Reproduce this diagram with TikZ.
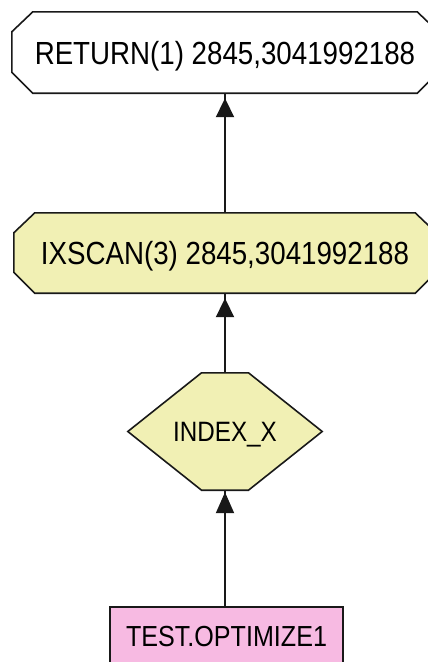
\documentclass[tikz,border=0pt]{standalone}
\usepackage{fontspec}
\setmainfont[FakeStretch=0.866]{Liberation Sans}
\usetikzlibrary{arrows.meta,backgrounds}
\definecolor{planyellow}{RGB}{241,240,180}
\definecolor{tablepink}{RGB}{247,186,226}
\definecolor{inkgray}{RGB}{25,25,25}
\begin{document}
\begin{tikzpicture}[x=1pt,y=-1pt,
  opnode/.style={rectangle, inner sep=0pt, text depth=0pt},
  bigtext/.style={font=\fontsize{32}{36}\selectfont, text height=23pt},
  outline/.style={draw=inkgray, line width=1.6pt, line join=miter},
  conn/.style={draw=inkgray, line width=2pt},
  tip/.style={conn, -{Triangle[length=#1pt,width=18pt]}},
]
\useasboundingbox (0,0) rectangle (428,662);

% operator nodes, top to bottom
\node[opnode, bigtext, minimum width=426pt, minimum height=81pt] (ret) at (225,52.5) {RETURN(1) 2845,3041992188};
\node[opnode, bigtext, minimum width=422pt, minimum height=80pt] (scan) at (225,253) {IXSCAN(3) 2845,3041992188};
\node[opnode, font=\fontsize{28}{32}\selectfont, text height=20pt, minimum width=194pt, minimum height=117pt] (idx) at (225,431.5) {INDEX\_X};
\node[rectangle, inner sep=0pt, text depth=0pt, text height=21pt, font=\fontsize{29}{33}\selectfont,
      outline, fill=tablepink, minimum width=233pt, minimum height=58pt] (tbl) at (226.5,636) {TEST.OPTIMIZE1};

% chamfered and hexagonal outlines behind the labels
\begin{pgfonlayer}{background}
  \draw[outline, fill=white]
    ([xshift=21pt]ret.north west) -- ([xshift=-21pt]ret.north east) -- ([yshift=-20pt]ret.north east)
    -- ([yshift=21pt]ret.south east) -- ([xshift=-21pt]ret.south east) -- ([xshift=21pt]ret.south west)
    -- ([yshift=21pt]ret.south west) -- ([yshift=-20pt]ret.north west) -- cycle;
  \draw[outline, fill=planyellow]
    ([xshift=21pt]scan.north west) -- ([xshift=-21pt]scan.north east) -- ([yshift=-20pt]scan.north east)
    -- ([yshift=21pt]scan.south east) -- ([xshift=-21pt]scan.south east) -- ([xshift=21pt]scan.south west)
    -- ([yshift=21pt]scan.south west) -- ([yshift=-20pt]scan.north west) -- cycle;
  \draw[outline, fill=planyellow]
    ([xshift=-23.5pt]idx.north) -- ([xshift=23.5pt]idx.north) -- (idx.east)
    -- ([xshift=23.5pt]idx.south) -- ([xshift=-23.5pt]idx.south) -- (idx.west) -- cycle;
\end{pgfonlayer}

% data flow, bottom to top
\draw[conn] (idx.south |- tbl.north) -- (idx.south);
\draw[tip=21, shorten >=2pt] (idx.south |- tbl.north) -- (idx.south);
\draw[conn] (idx.north) -- (scan.south);
\draw[tip=19, shorten >=5pt] (idx.north) -- (scan.south);
\draw[conn] (scan.north) -- (ret.south);
\draw[tip=19, shorten >=5pt] (scan.north) -- (ret.south);
\end{tikzpicture}
\end{document}
